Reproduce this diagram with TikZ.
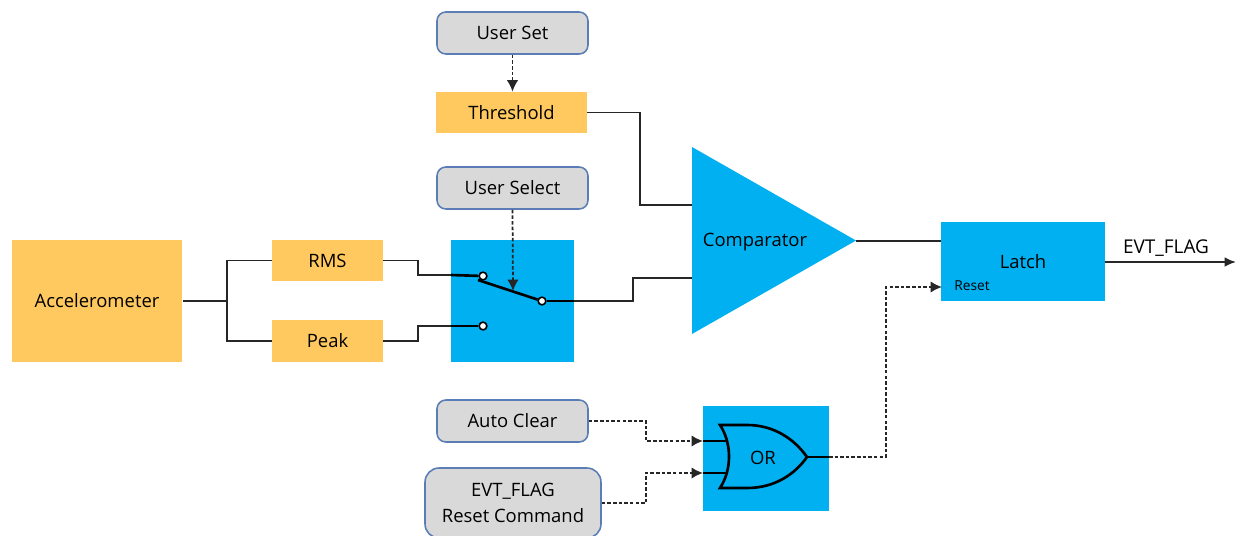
\documentclass[tikz,border=0pt]{standalone}
\usepackage{fontspec}
\setmainfont{Open Sans}
\usetikzlibrary{arrows.meta}
\definecolor{orangebox}{HTML}{FFC95F}
\definecolor{bluebox}{HTML}{00B0F0}
\definecolor{greybox}{HTML}{D9D9D9}
\definecolor{greyedge}{HTML}{5A7DB5}
\tikzset{
  block/.style={inner sep=0pt, align=center, font=\fontsize{10.5}{14.6}\selectfont},
  sensorbox/.style={block, fill=orangebox},
  logicbox/.style={block, fill=bluebox},
  userbox/.style={block, fill=greybox, draw=greyedge, line width=.9pt, rounded corners=5pt},
  wire/.style={draw=black!85, line width=1pt},
  ctrl/.style={wire, dash pattern=on 2pt off 1.2pt, -{Latex[length=6.5pt,width=6.5pt,sep=0pt]}},
  thick wire/.style={draw=black, line width=1.5pt},
  term/.style={circle, fill=white, draw=black, line width=.9pt, inner sep=0pt, minimum size=4.4pt},
}
\begin{document}
\begin{tikzpicture}[x=.02cm, y=-.02cm]
    \useasboundingbox (0,0) rectangle (1235,535);
    % sensor side
    \node[sensorbox, minimum width=3.42cm, minimum height=2.44cm] (accel) at (97,301) {Accelerometer};
    \node[sensorbox, minimum width=2.22cm, minimum height=.82cm] (rms) at (327.5,260.5) {RMS};
    \node[sensorbox, minimum width=2.22cm, minimum height=.84cm] (peak) at (327.5,341) {Peak};
    \node[sensorbox, minimum width=3.02cm, minimum height=.82cm] (thresh) at (511.5,112.5) {Threshold};
    % user inputs
    \node[userbox, minimum width=3.02cm, minimum height=.84cm] (userset) at (512.5,33) {User Set};
    \node[userbox, minimum width=3.02cm, minimum height=.84cm] (usersel) at (512.5,188) {User Select};
    \node[userbox, minimum width=3.02cm, minimum height=.84cm] (autoclr) at (512.5,421) {Auto Clear};
    \node[userbox, minimum width=3.52cm, minimum height=1.4cm, rounded corners=8pt] (evtreset) at (513,503) {EVT\_FLAG\\Reset Command};
    % switch
    \node[logicbox, minimum width=2.46cm, minimum height=2.44cm] (switch) at (512.5,301) {};
    \node[term] (swa) at (483,276) {};
    \node[term] (swb) at (483,326) {};
    \node[term] (swc) at (542,301) {};
    \coordinate (leverin) at (513,291);
    % comparator
    \fill[bluebox] (692,147) -- (856,240.5) -- (692,334) -- cycle;
    \node[block] (comp) at (755,242) {Comparator};
    \coordinate (compa) at (692,205);
    \coordinate (compb) at (692,278);
    \coordinate (compc) at (856,241);
    % latch
    \node[logicbox, minimum width=3.28cm, minimum height=1.58cm] (latch) at (1023,261.5) {Latch};
    \node[block, font=\fontsize{7.8}{8}\selectfont] (rst) at (972,286) {Reset};
    \coordinate (latchin) at (941,241);
    \coordinate (latchrst) at (942,287);
    \coordinate (evtend) at (1236,262);
    \node[block, font=\fontsize{10.8}{14}\selectfont] (evtlabel) at (1166,248) {EVT\_FLAG};
    % or gate
    \node[logicbox, minimum width=2.52cm, minimum height=2.1cm] (orbox) at (766,458.5) {};
    \draw[thick wire, fill=bluebox] (720,425) -- (747,425) .. controls (775,425) and (795,440) .. (807,457)
      .. controls (795,474) and (775,488) .. (747,488) -- (720,488)
      .. controls (732,470) and (732,443) .. (720,425) -- cycle;
    \node[block] (orlabel) at (763,458) {OR};
    \coordinate (orin) at (703,441);
    \coordinate (orjn) at (703,473);
    \coordinate (orinb) at (727,441);
    \coordinate (orjnb) at (727,473);
    \coordinate (orout) at (807,457);
    \coordinate (oredge) at (829,457);
    % wires
    \coordinate (split) at (227,301);
    \draw[wire] (accel.east) -- (split);
    \draw[wire] (rms.west) -| (split) |- (peak.west);
    \coordinate (swina) at (451,275);
    \coordinate (swinb) at (451,326);
    \coordinate (swout) at (574,301);
    \coordinate (leverend) at (478,280);
    \draw[wire] (rms.east) -- (418,260.5) |- (swina);
    \draw[wire] (peak.east) -- (418,341) |- (swinb);
    \draw[thick wire] (swina) -- (swa);
    \draw[thick wire] (swinb) -- (swb);
    \draw[thick wire] (swc) -- (swout);
    \draw[thick wire] (leverend) -- (swc);
    \draw[wire] (swout) -- (633,301) |- (compb);
    \draw[wire] (thresh.east) -- (640,112.5) |- (compa);
    \draw[wire] (compc) -- (latchin);
    \draw[wire, -{Latex[length=6.5pt,width=5.5pt]}] (latch.east |- evtend) -- (evtend);
    % control lines
    \draw[ctrl] (userset.south) -- (thresh.north -| userset.south);
    \draw[ctrl] (usersel.south) -- (leverin);
    \draw[ctrl] (autoclr.east) -- (646,421) |- (orin);
    \draw[ctrl] (evtreset.east) -- (646,503) |- (orjn);
    \draw[thick wire] (orin) -- (orinb);
    \draw[thick wire] (orjn) -- (orjnb);
    \draw[thick wire] (orout) -- (oredge);
    \draw[ctrl] (oredge) -- (886,457) |- (latchrst);
\end{tikzpicture}
\end{document}
